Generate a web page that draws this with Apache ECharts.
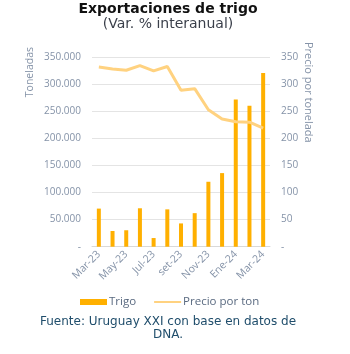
<!DOCTYPE html>
<html><head><meta charset="utf-8">
<script src="https://cdn.jsdelivr.net/npm/echarts@6/dist/echarts.min.js"></script>
<style>html,body{margin:0;padding:0;background:#fff}#c{width:350px;height:354px}</style>
</head><body><div id="c"></div>
<script>
const categories = ["Mar-23","Abr-23","May-23","Jun-23","Jul-23","Ago-23","set-23","Oct-23","Nov-23","Dic-23","Ene-24","Feb-24","Mar-24"];
const trigo = [70400, 29000, 30400, 71000, 16000, 69000, 43000, 62000, 120000, 136000, 272000, 260500, 321000];
const precio = [332, 328.5, 326, 334.5, 325, 333, 289, 292, 253, 236, 231, 230, 219];
const leftTicks = [0, 50000, 100000, 150000, 200000, 250000, 300000, 350000];
const rightTicks = [0, 50, 100, 150, 200, 250, 300, 350];

const font = "Open Sans";
const axisColor = "#8593a8";
const chart = echarts.init(document.getElementById('c'), null, {renderer: 'canvas'});
chart.setOption({
  animation: false,
  textStyle: {fontFamily: font},
  grid: {left: 92, right: 80, top: 57.3, bottom: 107.3},
  legend: {
    top: 291, left: 75, itemGap: 17, itemWidth: 27, itemHeight: 6,
    textStyle: {fontFamily: font, fontSize: 11.5, color: '#5a6a80', padding: [0, 0, 0, -3]},
    data: [
      {name: 'Trigo', icon: 'rect'},
      {name: 'Precio por ton', itemStyle: {opacity: 0}}
    ]
  },
  xAxis: {
    type: 'category', data: categories,
    axisLine: {lineStyle: {color: '#d9d9d9'}}, axisTick: {show: false},
    axisLabel: {interval: 1, rotate: 45, color: axisColor, fontSize: 10.5, margin: 6}
  },
  yAxis: [
    {type: 'value', min: 0, max: 350000, interval: 50000,
     splitLine: {lineStyle: {color: '#e4e4e4'}},
     axisLabel: {color: axisColor, fontSize: 10, margin: 11,
       formatter: v => v === 0 ? '-' : v.toLocaleString('de-DE')}},
    {type: 'value', min: 0, max: 350, interval: 50, splitLine: {show: false},
     axisLabel: {color: axisColor, fontSize: 10, margin: 11,
       formatter: v => v === 0 ? '-' : String(v)}}
  ],
  graphic: [
    {type: 'text', x: 168, y: 2,
     style: {text: 'Exportaciones de trigo', fill: '#111', align: 'center',
       font: 'bold 14px "DejaVu Sans"'}},
    {type: 'text', x: 168, y: 17,
     style: {text: '(Var. % interanual)', fill: '#3a3f4a', align: 'center',
       font: '14px "DejaVu Sans"'}},
    {type: 'text', left: 25, top: 47, rotation: Math.PI / 2,
     style: {text: 'Toneladas', fill: axisColor, font: '10.5px "Open Sans"'}},
    {type: 'text', left: 303, top: 42, rotation: -Math.PI / 2,
     style: {text: 'Precio por tonelada', fill: axisColor, font: '11px "Open Sans"'}},
    {type: 'text', x: 168, y: 315,
     style: {text: 'Fuente: Uruguay XXI con base en datos de\nDNA.', fill: '#1f4d6b',
       font: '12px "DejaVu Sans"', align: 'center', lineHeight: 13}}
  ],
  series: [
    {name: 'Trigo', type: 'bar', data: trigo, barWidth: 4, itemStyle: {color: '#FFB000'}},
    {name: 'Precio por ton', type: 'line', yAxisIndex: 1, data: precio, symbol: 'none',
     lineStyle: {color: '#FFD280', width: 3}, itemStyle: {color: '#FFD280'}}
  ]
});
</script></body></html>
